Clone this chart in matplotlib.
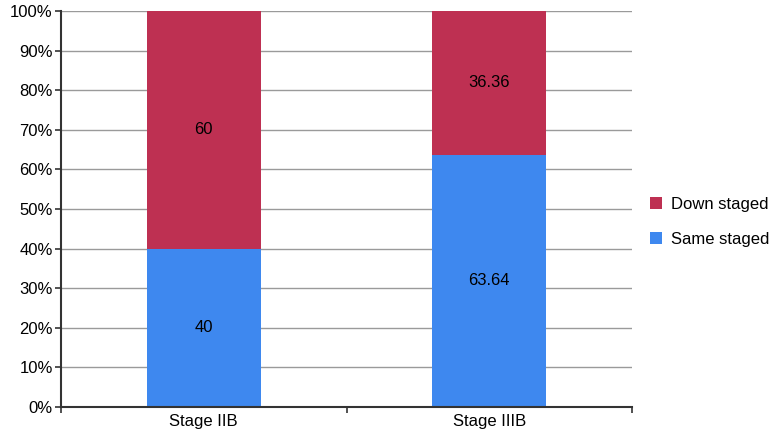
import matplotlib.pyplot as plt
import numpy as np

plt.rcParams['font.family'] = ['Liberation Sans', 'DejaVu Sans']

# ── data ──
stages = ["Stage IIB", "Stage IIIB"]
same_staged = [40, 63.64]
down_staged = [60, 36.36]
same_labels = ["40", "63.64"]
down_labels = ["60", "36.36"]
yticks = np.arange(0, 101, 10)

RED = "#BE3052"
BLUE = "#3E88EF"
FS = 12

fig = plt.figure(figsize=(7.8, 4.33), dpi=100)
ax = fig.add_axes([61 / 780, 26 / 433, 571 / 780, 396 / 433])

x = np.arange(len(stages))
w = 0.4
b1 = ax.bar(x, same_staged, w, color=BLUE, label="Same staged", zorder=3)
b2 = ax.bar(x, down_staged, w, bottom=same_staged, color=RED,
            label="Down staged", zorder=3)

for xi, s, d, sl, dl in zip(x, same_staged, down_staged, same_labels, down_labels):
    ax.text(xi, s / 2, sl, ha="center", va="center", fontsize=FS, zorder=4)
    ax.text(xi, s + d / 2, dl, ha="center", va="center", fontsize=FS, zorder=4)

ax.set_xlim(-0.5, len(stages) - 0.5)
ax.set_ylim(0, 100)
ax.set_yticks(yticks)
ax.set_yticklabels([f"{v}%" for v in yticks], fontsize=FS)
ax.set_xticks(x)
ax.set_xticklabels(stages, fontsize=FS)
ax.tick_params(axis="x", length=0, pad=5)
ax.set_xticks(np.arange(-0.5, len(stages), 1), minor=True)
ax.tick_params(axis="x", which="minor", length=4, width=1.2, color="#333333")
ax.tick_params(axis="y", length=4, width=1.2, color="#333333", pad=2)

ax.yaxis.grid(True, color="#9a9a9a", lw=1, zorder=0)
for s in ["top", "right"]:
    ax.spines[s].set_visible(False)
for s in ["left", "bottom"]:
    ax.spines[s].set_color("#333333")
    ax.spines[s].set_linewidth(1.5)
    ax.spines[s].set_zorder(5)

handles = [b2, b1]
ax.legend(handles, ["Down staged", "Same staged"], loc="center left",
          bbox_to_anchor=(1.005, 0.467), frameon=False, fontsize=FS,
          handlelength=0.75, handleheight=0.75, handletextpad=0.5,
          labelspacing=1.2)

fig.savefig("out.png", dpi=100)
